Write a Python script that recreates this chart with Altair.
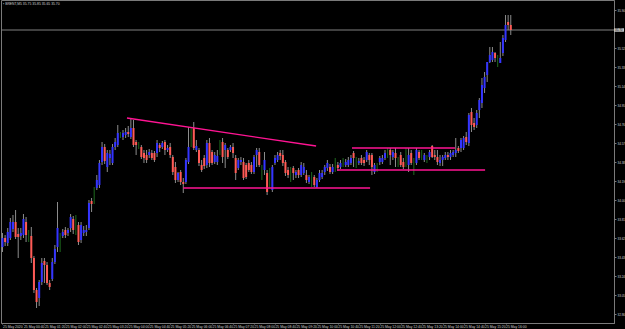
import altair as alt
import pandas as pd

symbol = "BRENT,M5"

opens = [
    33.53, 33.62, 33.57, 33.62, 33.71, 33.78, 33.66, 33.64, 33.65, 33.78,
    33.64, 33.64, 33.42, 33.10, 33.02, 33.18, 33.39, 33.35, 33.17, 33.21,
    33.38, 33.53, 33.64, 33.64, 33.70, 33.67, 33.72, 33.81, 33.72, 33.75,
    33.60, 33.67, 33.68, 33.72, 33.99, 34.02, 34.12, 34.15, 34.38, 34.53,
    34.33, 34.42, 34.37, 34.53, 34.55, 34.65, 34.63, 34.65, 34.68, 34.63,
    34.72, 34.58, 34.55, 34.53, 34.47, 34.45, 34.45, 34.47, 34.47, 34.47,
    34.55, 34.53, 34.58, 34.50, 34.53, 34.43, 34.33, 34.20, 34.28, 34.18,
    34.18, 34.38, 34.60, 34.72, 34.50, 34.50, 34.35, 34.42, 34.35, 34.57,
    34.48, 34.38, 34.38, 34.50, 34.58, 34.50, 34.50, 34.50, 34.53, 34.42,
    34.32, 34.38, 34.38, 34.35, 34.37, 34.35, 34.28, 34.45, 34.48, 34.30,
    34.30, 34.27, 34.20, 34.10, 34.37, 34.40, 34.47, 34.45, 34.38, 34.30,
    34.28, 34.32, 34.25, 34.30, 34.25, 34.27, 34.25, 34.18, 34.22, 34.23,
    34.13, 34.20, 34.23, 34.28, 34.32, 34.33, 34.28, 34.32, 34.35, 34.33,
    34.37, 34.35, 34.35, 34.37, 34.47, 34.40, 34.37, 34.42, 34.40, 34.40,
    34.45, 34.45, 34.28, 34.33, 34.38, 34.38, 34.42, 34.45, 34.50, 34.43,
    34.47, 34.40, 34.45, 34.38, 34.40, 34.35, 34.47, 34.40, 34.37, 34.48,
    34.45, 34.40, 34.42, 34.43, 34.54, 34.45, 34.43, 34.37, 34.40, 34.42,
    34.45, 34.43, 34.45, 34.47, 34.52, 34.52, 34.52, 34.63, 34.57, 34.88,
    34.77, 34.75, 34.90, 34.97, 35.12, 35.25, 35.38, 35.40, 35.47, 35.40,
    35.37, 35.47, 35.60, 35.78, 35.75,
]
highs = [
    33.67, 33.65, 33.72, 33.82, 33.85, 33.90, 33.72, 33.72, 33.86, 33.83,
    33.70, 33.73, 33.44, 33.12, 33.20, 33.42, 33.42, 33.38, 33.20, 33.42,
    33.55, 33.98, 33.67, 33.71, 33.73, 33.72, 33.86, 33.84, 33.85, 33.78,
    33.78, 33.74, 33.75, 34.00, 34.02, 34.13, 34.25, 34.40, 34.58, 34.56,
    34.50, 34.50, 34.56, 34.62, 34.75, 34.68, 34.70, 34.72, 34.74, 34.82,
    34.80, 34.60, 34.58, 34.55, 34.50, 34.50, 34.51, 34.50, 34.49, 34.60,
    34.57, 34.59, 34.60, 34.55, 34.57, 34.45, 34.38, 34.28, 34.30, 34.22,
    34.42, 34.73, 34.73, 34.78, 34.60, 34.52, 34.40, 34.45, 34.60, 34.62,
    34.50, 34.48, 34.50, 34.60, 34.62, 34.57, 34.52, 34.55, 34.57, 34.45,
    34.42, 34.43, 34.42, 34.37, 34.40, 34.38, 34.45, 34.52, 34.52, 34.35,
    34.48, 34.30, 34.32, 34.35, 34.45, 34.48, 34.50, 34.50, 34.40, 34.33,
    34.33, 34.34, 34.30, 34.32, 34.38, 34.37, 34.30, 34.25, 34.28, 34.25,
    34.22, 34.30, 34.30, 34.35, 34.40, 34.36, 34.36, 34.42, 34.38, 34.40,
    34.42, 34.41, 34.43, 34.45, 34.49, 34.43, 34.42, 34.45, 34.43, 34.50,
    34.47, 34.47, 34.37, 34.37, 34.44, 34.45, 34.50, 34.52, 34.52, 34.50,
    34.52, 34.43, 34.48, 34.42, 34.52, 34.52, 34.50, 34.42, 34.52, 34.50,
    34.50, 34.47, 34.45, 34.50, 34.55, 34.50, 34.50, 34.45, 34.45, 34.48,
    34.48, 34.50, 34.50, 34.62, 34.54, 34.62, 34.64, 34.68, 34.87, 34.92,
    34.82, 34.90, 35.02, 35.22, 35.28, 35.38, 35.53, 35.53, 35.48, 35.45,
    35.58, 35.65, 35.85, 35.85, 35.85,
]
lows = [
    33.48, 33.54, 33.54, 33.60, 33.68, 33.61, 33.42, 33.60, 33.62, 33.58,
    33.58, 33.37, 33.07, 32.92, 32.94, 33.15, 33.17, 33.15, 33.10, 33.19,
    33.36, 33.48, 33.48, 33.62, 33.62, 33.64, 33.68, 33.66, 33.65, 33.55,
    33.57, 33.64, 33.64, 33.70, 33.88, 33.96, 34.10, 34.12, 34.35, 34.36,
    34.28, 34.35, 34.35, 34.50, 34.53, 34.62, 34.60, 34.62, 34.63, 34.61,
    34.53, 34.45, 34.51, 34.41, 34.37, 34.37, 34.42, 34.40, 34.38, 34.43,
    34.48, 34.51, 34.45, 34.48, 34.42, 34.25, 34.17, 34.18, 34.15, 34.07,
    34.16, 34.36, 34.53, 34.50, 34.48, 34.34, 34.28, 34.31, 34.32, 34.33,
    34.35, 34.36, 34.35, 34.45, 34.37, 34.32, 34.41, 34.48, 34.42, 34.20,
    34.30, 34.35, 34.20, 34.21, 34.28, 34.26, 34.26, 34.33, 34.33, 34.20,
    34.25, 34.05, 34.12, 34.08, 34.35, 34.38, 34.40, 34.34, 34.24, 34.22,
    34.18, 34.20, 34.22, 34.22, 34.23, 34.25, 34.17, 34.16, 34.13, 34.13,
    34.12, 34.18, 34.21, 34.25, 34.29, 34.26, 34.26, 34.28, 34.29, 34.31,
    34.33, 34.33, 34.33, 34.35, 34.33, 34.32, 34.35, 34.35, 34.34, 34.38,
    34.35, 34.25, 34.26, 34.28, 34.35, 34.36, 34.40, 34.42, 34.35, 34.40,
    34.33, 34.33, 34.33, 34.31, 34.33, 34.28, 34.35, 34.25, 34.35, 34.40,
    34.40, 34.38, 34.37, 34.40, 34.42, 34.40, 34.35, 34.34, 34.34, 34.40,
    34.40, 34.40, 34.43, 34.43, 34.47, 34.48, 34.50, 34.55, 34.54, 34.68,
    34.70, 34.72, 34.82, 34.92, 35.07, 35.18, 35.37, 35.38, 35.38, 35.33,
    35.37, 35.44, 35.58, 35.70, 35.65,
]
closes = [
    33.62, 33.58, 33.68, 33.78, 33.78, 33.63, 33.63, 33.67, 33.81, 33.65,
    33.64, 33.42, 33.10, 32.98, 33.18, 33.37, 33.35, 33.17, 33.13, 33.38,
    33.51, 33.72, 33.64, 33.68, 33.65, 33.70, 33.83, 33.70, 33.72, 33.58,
    33.75, 33.70, 33.70, 33.97, 33.96, 34.02, 34.20, 34.37, 34.53, 34.39,
    34.47, 34.46, 34.53, 34.58, 34.67, 34.65, 34.67, 34.68, 34.66, 34.72,
    34.55, 34.55, 34.55, 34.43, 34.42, 34.40, 34.48, 34.42, 34.40, 34.57,
    34.52, 34.57, 34.50, 34.52, 34.45, 34.28, 34.20, 34.27, 34.18, 34.16,
    34.40, 34.53, 34.60, 34.52, 34.54, 34.37, 34.30, 34.34, 34.57, 34.37,
    34.37, 34.45, 34.44, 34.50, 34.43, 34.55, 34.43, 34.53, 34.47, 34.27,
    34.40, 34.40, 34.22, 34.23, 34.30, 34.28, 34.43, 34.50, 34.35, 34.30,
    34.40, 34.08, 34.20, 34.33, 34.42, 34.45, 34.44, 34.37, 34.27, 34.25,
    34.28, 34.27, 34.28, 34.25, 34.35, 34.33, 34.20, 34.23, 34.22, 34.15,
    34.20, 34.27, 34.27, 34.33, 34.37, 34.28, 34.33, 34.32, 34.32, 34.37,
    34.37, 34.38, 34.40, 34.42, 34.42, 34.40, 34.39, 34.37, 34.37, 34.48,
    34.40, 34.33, 34.35, 34.33, 34.42, 34.42, 34.47, 34.45, 34.45, 34.48,
    34.42, 34.40, 34.35, 34.33, 34.40, 34.45, 34.37, 34.40, 34.50, 34.42,
    34.45, 34.45, 34.42, 34.48, 34.43, 34.43, 34.38, 34.40, 34.43, 34.45,
    34.43, 34.47, 34.48, 34.50, 34.49, 34.60, 34.62, 34.58, 34.85, 34.75,
    34.73, 34.87, 35.00, 35.15, 35.23, 35.38, 35.45, 35.48, 35.42, 35.40,
    35.42, 35.62, 35.75, 35.75, 35.70,
]

# time axis labels (one every 8 bars)
time_labels = [
    "25 May 2020", "25 May 00:40", "25 May 01:20", "25 May 02:00", "25 May 02:40",
    "25 May 03:20", "25 May 04:00", "25 May 04:40", "25 May 05:20", "25 May 06:00",
    "25 May 06:40", "25 May 07:20", "25 May 08:00", "25 May 08:40", "25 May 09:20",
    "25 May 10:00", "25 May 10:40", "25 May 11:20", "25 May 12:00", "25 May 12:40",
    "25 May 13:20", "25 May 14:00", "25 May 14:40", "25 May 15:20", "25 May 16:00",
]
time_tick_bars = [0, 8, 16, 24, 32, 40, 48, 56, 64, 72, 80, 88, 96, 104, 112,
                  120, 128, 136, 144, 152, 160, 168, 176, 184, 192]

# price scale labels (the one hidden behind the current-price tag is left out)
price_ticks = [35.90, 35.52, 35.33, 35.14, 34.95, 34.76, 34.57, 34.38,
               34.19, 34.00, 33.81, 33.62, 33.43, 33.24, 33.05, 32.86]

# trend lines drawn on the chart (bar index / price)
line_bar1 = [47.5, 69.0, 133.4, 127.7]
line_bar2 = [119.7, 140.3, 172.7, 184.2]
line_p1 = [34.82, 34.12, 34.52, 34.30]
line_p2 = [34.54, 34.12, 34.52, 34.30]

n = len(closes)
df = pd.DataFrame({"i": list(range(n)), "o": opens, "h": highs, "l": lows, "c": closes})
df["dir"] = ["up" if c > o else ("down" if c < o else "doji") for o, c in zip(opens, closes)]

lines_df = pd.DataFrame({"x1": line_bar1, "x2": line_bar2, "p1": line_p1, "p2": line_p2})
last_df = pd.DataFrame({"p": [closes[-1]], "lbl": [f"{closes[-1]:.2f}"]})
title_df = pd.DataFrame({"t": [f"\u25aa {symbol}  {opens[-1]:.2f} {highs[-1]:.2f} {lows[-1]:.2f} {closes[-1]:.2f}"]})

FONT = "Liberation Sans"
label_js = "[" + ",".join("'" + s + "'" for s in time_labels) + "]"

xscale = alt.Scale(domain=[-0.57, 233.4], nice=False, zero=False)
yscale = alt.Scale(domain=[32.77, 36.0], nice=False, zero=False)

x_axis = alt.Axis(values=time_tick_bars, labelExpr=label_js + "[round(datum.value/8)]",
                  labelAlign="left", labelBaseline="top", labelFontSize=3.4, labelFont=FONT,
                  labelColor="#d0d0d0", labelPadding=0, tickSize=1, tickColor="#7a7a7a",
                  domainColor="#7a7a7a", grid=False, title=None, labelOverlap=False,
                  labelFlush=False, labelBound=False)
y_axis = alt.Axis(orient="right", values=price_ticks, format=".2f", labelAlign="left",
                  labelBaseline="middle", labelFontSize=3.0, labelFont=FONT, labelColor="#d0d0d0",
                  labelPadding=1, tickSize=2, tickColor="#7a7a7a", domainColor="#7a7a7a",
                  grid=False, title=None, labelOverlap=False, labelFlush=False)

base = alt.Chart(df)

wicks = base.mark_rule(strokeWidth=1).encode(
    x=alt.X("i:Q", scale=xscale, axis=x_axis),
    y=alt.Y("l:Q", scale=yscale, axis=y_axis),
    y2="h:Q",
    color=alt.Color("dir:N", scale=alt.Scale(domain=["up", "down", "doji"],
                                              range=["#8c8c8c", "#8c8c8c", "#1e6b1e"]), legend=None),
)

bodies = base.mark_rule(strokeWidth=2).encode(
    x=alt.X("i:Q", scale=xscale, axis=x_axis),
    y=alt.Y("o:Q", scale=yscale, axis=y_axis),
    y2="c:Q",
    color=alt.Color("dir:N", scale=alt.Scale(domain=["up", "down", "doji"],
                                              range=["#3434ff", "#ff5a55", "#1e6b1e"]), legend=None),
)

trend = alt.Chart(lines_df).mark_rule(strokeWidth=1.3, color="#ff1493").encode(
    x=alt.X("x1:Q", scale=xscale, axis=x_axis),
    x2="x2:Q",
    y=alt.Y("p1:Q", scale=yscale, axis=y_axis),
    y2="p2:Q",
)

price_line = alt.Chart(last_df).mark_rule(strokeWidth=1, color="#808080").encode(
    y=alt.Y("p:Q", scale=yscale, axis=y_axis),
)

price_box = alt.Chart(last_df).mark_point(
    shape="M-1,-0.35H1V0.35H-1Z", size=100, filled=True, color="#c4c4c4", opacity=1
).encode(x=alt.value(618), y=alt.Y("p:Q", scale=yscale, axis=y_axis))

price_txt = alt.Chart(last_df).mark_text(
    align="left", baseline="middle", fontSize=3.0, font=FONT, color="#000000"
).encode(x=alt.value(614), y=alt.Y("p:Q", scale=yscale, axis=y_axis), text="lbl:N")

title_txt = alt.Chart(title_df).mark_text(
    align="left", baseline="top", fontSize=3.4, font=FONT, color="#d0d0d0"
).encode(x=alt.value(2), y=alt.value(2), text="t:N")

chart = alt.layer(price_line, wicks, bodies, trend, price_box, price_txt, title_txt).resolve_scale(
    color="independent"
).properties(
    width=613, height=323,
    padding={"left": 1, "top": 0, "right": 11, "bottom": 6},
    autosize=alt.AutoSizeParams(type="none"),
    background="#000000",
).configure_view(stroke="#7a7a7a", strokeWidth=1)

chart.save("out.html", embed_options={"renderer": "svg", "actions": False})
